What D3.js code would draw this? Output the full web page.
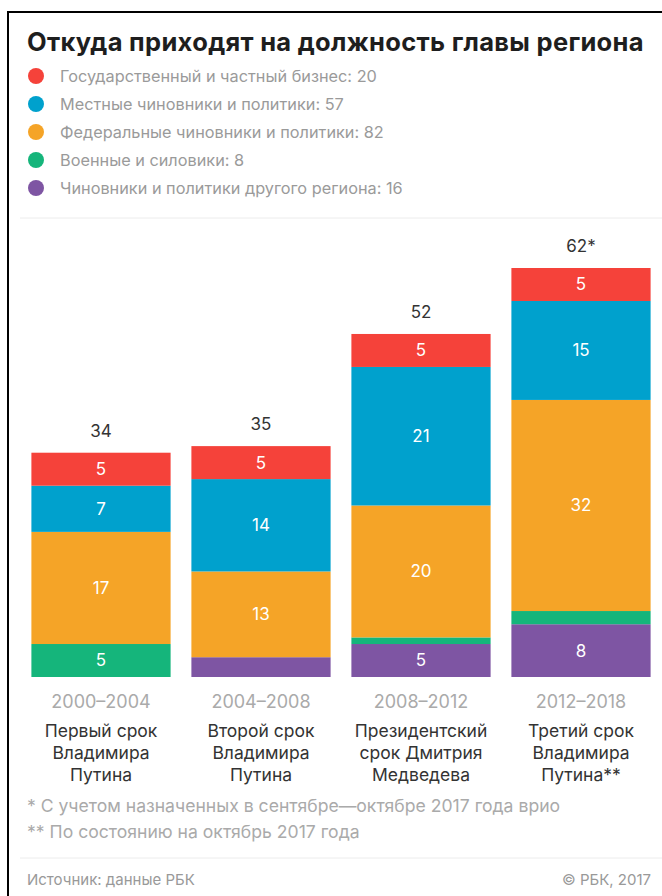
<!DOCTYPE html>
<html>
<head>
<meta charset="utf-8">
<script src="https://cdn.jsdelivr.net/npm/d3@7"></script>
<style>
body { margin: 0; background: #fff; }
svg { display: block; font-family: Inter, Roboto, "Noto Sans", sans-serif; }
</style>
</head>
<body>
<div id="chart"></div>
<script>
var width = 662
var height = 896

// data
var periods = ["2000–2004", "2004–2008", "2008–2012", "2012–2018"]
var periodNames = [
  ["Первый срок", "Владимира", "Путина"],
  ["Второй срок", "Владимира", "Путина"],
  ["Президентский", "срок Дмитрия", "Медведева"],
  ["Третий срок", "Владимира", "Путина**"]
]
var totalLabels = ["34", "35", "52", "62*"]
var seriesKeys = ["other", "military", "federal", "local", "business"]
var seriesNames = {
  business: "Государственный и частный бизнес: 20",
  local: "Местные чиновники и политики: 57",
  federal: "Федеральные чиновники и политики: 82",
  military: "Военные и силовики: 8",
  other: "Чиновники и политики другого региона: 16"
}
var business = [5, 5, 5, 5]
var local = [7, 14, 21, 15]
var federal = [17, 13, 20, 32]
var military = [5, 0, 1, 2]
var other = [0, 3, 5, 8]
var legendOrder = ["business", "local", "federal", "military", "other"]

var colors = {
  business: "#f5423a",
  local: "#00a1cd",
  federal: "#f5a427",
  military: "#15b57b",
  other: "#7e55a3"
}

var rows = periods.map(function(p, i){
  return {period: p, business: business[i], local: local[i], federal: federal[i], military: military[i], other: other[i]}
})

var svg = d3.select("#chart").append("svg")
.attr("width", width)
.attr("height", height)

// frame
svg.append("rect").attr("x", 7).attr("y", 11).attr("width", 2).attr("height", height - 11).attr("fill", "#000")
svg.append("rect").attr("x", 7).attr("y", 11).attr("width", width - 7).attr("height", 2).attr("fill", "#000")

svg.append("text")
.attr("x", 27)
.attr("y", 51)
.text("Откуда приходят на должность главы региона")
.style("font-weight", "bold")
.style("font-size", "25.5px")
.style("letter-spacing", "0.3px")
.attr("fill", "#1e1e1e")

// legend
var legend = svg.selectAll(".leg")
.data(legendOrder)
.enter()
.append("g")
.attr("transform", function(d, i){ return "translate(36," + (76 + i * 28) + ")" })

legend.append("circle").attr("r", 8).attr("fill", function(d){ return colors[d] })
legend.append("text")
.attr("x", 24)
.attr("dy", "0.35em")
.text(function(d){ return seriesNames[d] })
.style("font-size", "16.3px")
.attr("fill", "#9a9a9a")

svg.append("line").attr("x1", 20).attr("x2", width).attr("y1", 218).attr("y2", 218)
.attr("stroke", "#ececec").attr("stroke-width", 1)

// scales
var x = d3.scaleBand()
.domain(periods)
.range([21, 661])
.paddingInner(0.13)
.paddingOuter(0.065)

var y = d3.scaleLinear()
.domain([0, 62])
.range([677, 268])

var stacked = d3.stack().keys(seriesKeys)(rows)

var layers = svg.selectAll(".layer")
.data(stacked)
.enter()
.append("g")
.attr("fill", function(d){ return colors[d.key] })

layers.selectAll("rect")
.data(function(d){ return d })
.enter()
.append("rect")
.attr("x", function(d){ return x(d.data.period) })
.attr("width", x.bandwidth())
.attr("y", function(d){ return y(d[1]) })
.attr("height", function(d){ return y(d[0]) - y(d[1]) })

layers.selectAll("text")
.data(function(d){ return d.filter(function(s){ return s[1] - s[0] >= 5 }) })
.enter()
.append("text")
.attr("x", function(d){ return x(d.data.period) + x.bandwidth() / 2 })
.attr("y", function(d){ return (y(d[0]) + y(d[1])) / 2 })
.attr("dy", "0.35em")
.attr("text-anchor", "middle")
.attr("fill", "#fff")
.style("font-size", "17px")
.text(function(d){ return d[1] - d[0] })

// totals
svg.selectAll(".total")
.data(rows)
.enter()
.append("text")
.attr("x", function(d){ return x(d.period) + x.bandwidth() / 2 })
.attr("y", function(d){ return y(d3.sum(seriesKeys, function(k){ return d[k] })) - 16 })
.attr("text-anchor", "middle")
.style("font-size", "17px")
.attr("fill", "#333")
.text(function(d, i){ return totalLabels[i] })

// x labels
svg.selectAll(".period")
.data(periods)
.enter()
.append("text")
.attr("x", function(d){ return x(d) + x.bandwidth() / 2 })
.attr("y", 708)
.attr("text-anchor", "middle")
.style("font-size", "18px")
.attr("fill", "#aaa")
.text(function(d){ return d })

var names = svg.selectAll(".pname")
.data(periods)
.enter()
.append("text")
.attr("text-anchor", "middle")
.style("font-size", "17.5px")
.attr("fill", "#333")

names.selectAll("tspan")
.data(function(d, i){ return periodNames[i].map(function(t){ return {t: t, p: d} }) })
.enter()
.append("tspan")
.attr("x", function(d){ return x(d.p) + x.bandwidth() / 2 })
.attr("y", function(d, i){ return 737 + i * 22 })
.text(function(d){ return d.t })

// notes
svg.append("text").attr("x", 27).attr("y", 812)
.text("* С учетом назначенных в сентябре—октябре 2017 года врио")
.style("font-size", "17.6px").attr("fill", "#aaa")
svg.append("text").attr("x", 27).attr("y", 838)
.text("** По состоянию на октябрь 2017 года")
.style("font-size", "17.6px").attr("fill", "#aaa")

svg.append("line").attr("x1", 20).attr("x2", width).attr("y1", 858).attr("y2", 858)
.attr("stroke", "#ececec").attr("stroke-width", 1)

svg.append("text").attr("x", 27).attr("y", 885)
.text("Источник: данные РБК")
.style("font-size", "15px").attr("fill", "#999")
svg.append("text").attr("x", 651).attr("y", 885)
.attr("text-anchor", "end")
.text("© РБК, 2017")
.style("font-size", "15px").attr("fill", "#999")
</script>
</body>
</html>
